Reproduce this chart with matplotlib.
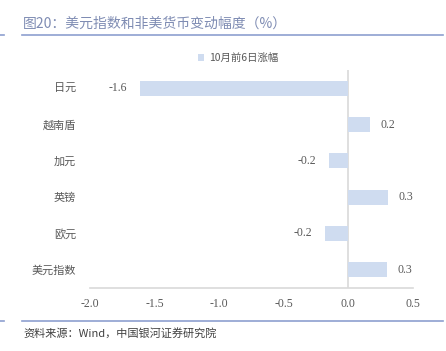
import matplotlib
matplotlib.use("Agg")
from matplotlib import pyplot as plt
from matplotlib.lines import Line2D

plt.rcParams["font.family"] = ["Noto Sans CJK SC", "DejaVu Sans"]

categories = ["日元", "越南盾", "加元", "英镑", "欧元", "美元指数"]
values = [-1.61, 0.17, -0.15, 0.31, -0.18, 0.30]
value_labels = ["-1.6", "0.2", "-0.2", "0.3", "-0.2", "0.3"]
x_ticks = [-2.0, -1.5, -1.0, -0.5, 0.0, 0.5]
series_name = "10月前6日涨幅"

bar_color = "#cfdcf0"
text_grey = "#595959"
num_font = ["Liberation Serif", "DejaVu Serif"]

fig = plt.figure(figsize=(4.46, 3.51), dpi=100)
ax = fig.add_axes([90 / 446, 1 - 288 / 351, 323 / 446, 218 / 351])

# first category at the top
pos = list(range(len(categories)))[::-1]
bars = ax.barh(pos, values, height=0.42, color=bar_color, label=series_name)

for p, v, lab in zip(pos, values, value_labels):
    if v < 0:
        ax.text(v - 0.1, p, lab, ha="right", va="center", fontsize=8.5,
                color=text_grey, family=num_font)
    else:
        ax.text(v + 0.08, p, lab, ha="left", va="center", fontsize=8.5,
                color=text_grey, family=num_font)

ax.set_xlim(-2.0, 0.5)
ax.set_ylim(-0.5, len(categories) - 0.5)
ax.axvline(0, color="#d9d9d9", lw=1.2, zorder=0)

ax.set_yticks(pos)
ax.set_yticklabels(categories, fontsize=8, color=text_grey)
ax.set_xticks(x_ticks)
ax.set_xticklabels([f"{t:.1f}" for t in x_ticks], fontsize=8.5, color=text_grey,
                   family=num_font)
ax.tick_params(axis="both", length=0)
ax.tick_params(axis="y", pad=10)
ax.tick_params(axis="x", pad=7)

for s in ["top", "right", "left"]:
    ax.spines[s].set_visible(False)
ax.spines["bottom"].set_color("#d9d9d9")
ax.spines["bottom"].set_linewidth(1.2)

# legend on top
fig.legend(handles=[bars], labels=[series_name], loc="center",
           bbox_to_anchor=(238 / 446, 1 - 58 / 351), frameon=False,
           fontsize=7.5, handlelength=0.6, handleheight=0.6, handletextpad=0.4,
           labelcolor=text_grey)

# title and rules
fig.text(23 / 446, 1 - 24 / 351, "图20：美元指数和非美货币变动幅度（%）",
         fontsize=10, color="#7f8cb3", va="center", ha="left")
for y in [35, 321]:
    fig.add_artist(Line2D([22 / 446, 443 / 446], [1 - y / 351] * 2,
                          color="#8da0cf", lw=1.2))
    fig.add_artist(Line2D([0, 4 / 446], [1 - y / 351] * 2,
                          color="#8da0cf", lw=1.2))

fig.text(23 / 446, 1 - 333 / 351, "资料来源：Wind，中国银河证券研究院",
         fontsize=8, color="#404040", style="italic", va="center", ha="left")

plt.savefig("out.png", dpi=100)
